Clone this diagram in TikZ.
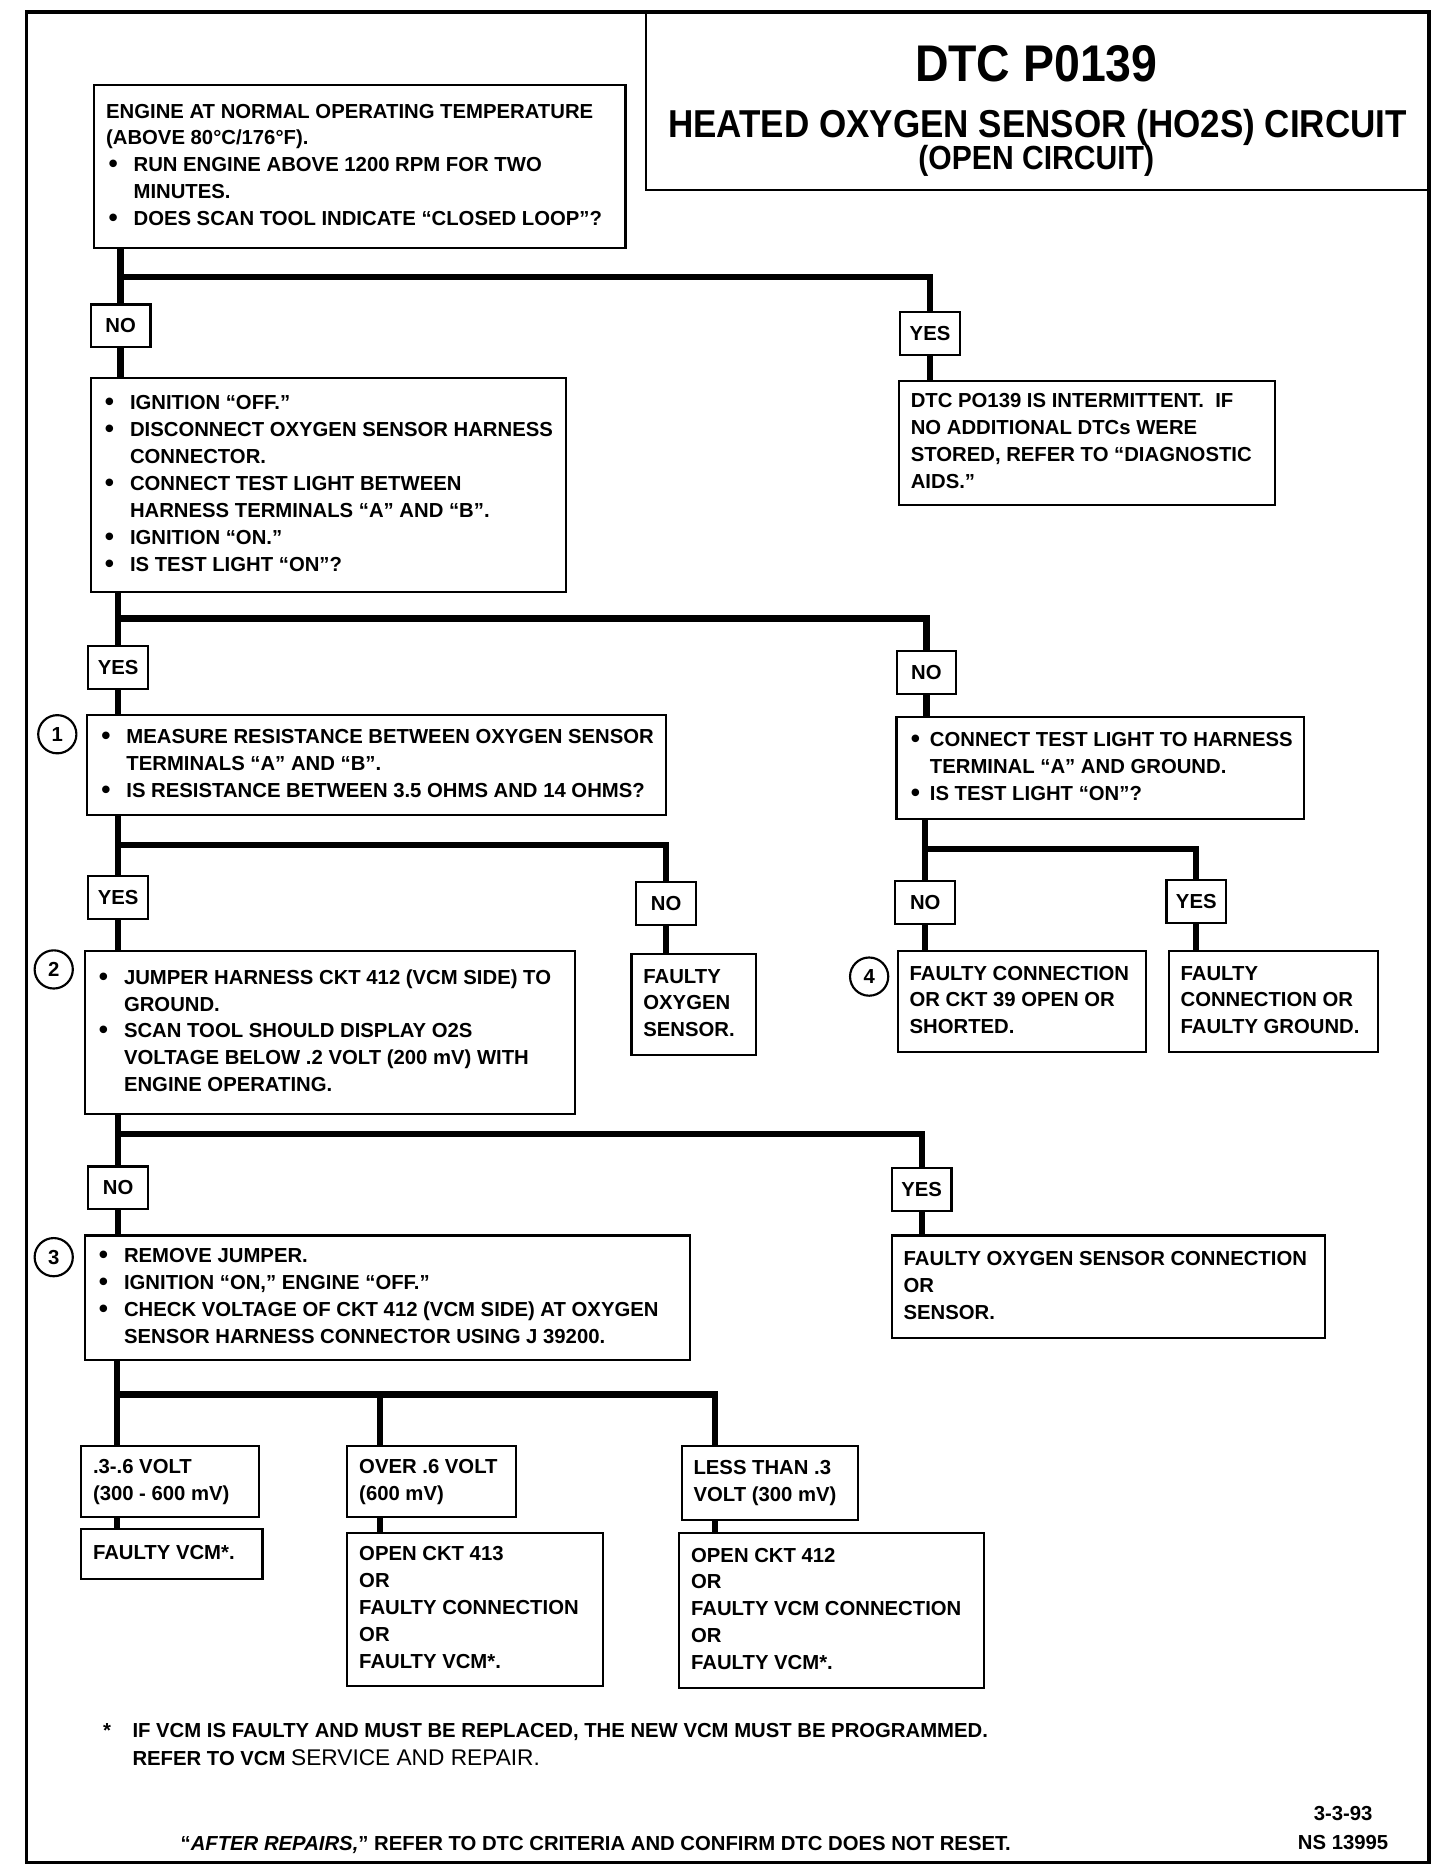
\documentclass[tikz,border=0pt]{standalone}
\usepackage{fontspec}
\setmainfont{Liberation Sans}
\newfontfamily\titlefont{Liberation Sans}[FakeStretch=0.9]

\newcommand{\bodyfont}{\bfseries\fontsize{8.5}{11.25}\selectfont}
\newcommand{\bigbul}{\raisebox{-0.4pt}{\fontsize{11}{11}\selectfont\textbullet}}
\newcommand{\bl}{\makebox[11.5pt][l]{\hspace{1pt}\bigbul}}
\newcommand{\bls}{\makebox[9pt][l]{\hspace{1pt}\bigbul}}
\newcommand{\full}[1]{\multicolumn{2}{@{}l@{}}{#1}}
\newcommand{\boxtext}[2]{\makebox[#1][l]{\begin{tabular}{@{}l@{}l@{}}#2\end{tabular}}}

\tikzset{
  box/.style={draw, line width=0.9pt, anchor=north west, inner xsep=5pt, inner ysep=0pt, font=\bodyfont},
  yn/.style={draw, line width=0.9pt, minimum width=25pt, minimum height=18pt, inner sep=2pt, fill=white, font=\bodyfont},
  conn/.style={line width=2.6pt},
  stepno/.style={circle, draw, line width=0.9pt, minimum size=16pt, inner sep=0pt, font=\bodyfont}
}

\begin{document}
\begin{tikzpicture}[x=0.5pt, y=-0.5pt]
  \fill[white] (0,0) rectangle (1206,1568);
  % rahmen
  \draw[line width=1.4pt] (22,10) rectangle (1197,1560);

  % titel
  \node[draw, line width=0.9pt, anchor=north west, minimum width=328.5pt, minimum height=74pt, inner sep=0pt] (title) at (540,10) {};
  \node[anchor=base, font=\titlefont\bfseries\fontsize{21.6}{24}\selectfont] (dtcno) at (868,68) {DTC P0139};
  \node[anchor=base, font=\titlefont\bfseries\fontsize{16.3}{18}\selectfont] (heated) at (869,115) {HEATED OXYGEN SENSOR (HO2S) CIRCUIT};
  \node[anchor=base, font=\titlefont\bfseries\fontsize{14}{16}\selectfont] (opencirc) at (868,142) {(OPEN CIRCUIT)};

  % kaesten
  \node[box, minimum height=68.5pt] (engtemp) at (78,70) {\boxtext{212.5pt}{%
    \full{ENGINE AT NORMAL OPERATING TEMPERATURE}\\
    \full{(ABOVE 80°C/176°F).}\\
    \bl & RUN ENGINE ABOVE 1200 RPM FOR TWO\\
        & MINUTES.\\
    \bl & DOES SCAN TOOL INDICATE “CLOSED LOOP”?}};
  \node[box, minimum height=89.5pt] (ignoff) at (75,316) {\boxtext{189pt}{%
    \bl & IGNITION “OFF.”\\
    \bl & DISCONNECT OXYGEN SENSOR HARNESS\\
        & CONNECTOR.\\
    \bl & CONNECT TEST LIGHT BETWEEN\\
        & HARNESS TERMINALS “A” AND “B”.\\
    \bl & IGNITION “ON.”\\
    \bl & IS TEST LIGHT “ON”?}};
  \node[box, minimum height=52pt] (intermit) at (752,318) {\boxtext{147.5pt}{%
    DTC PO139 IS INTERMITTENT.\ \ IF\\
    NO ADDITIONAL DTCs WERE\\
    STORED, REFER TO “DIAGNOSTIC\\
    AIDS.”}};
  \node[box, minimum height=42pt] (resist) at (72,598) {\boxtext{232.5pt}{%
    \bl & MEASURE RESISTANCE BETWEEN OXYGEN SENSOR\\
        & TERMINALS “A” AND “B”.\\
    \bl & IS RESISTANCE BETWEEN 3.5 OHMS AND 14 OHMS?}};
  \node[box, minimum height=42.5pt] (harnessgnd) at (750,600) {\boxtext{160.5pt}{%
    \bls & CONNECT TEST LIGHT TO HARNESS\\
         & TERMINAL “A” AND GROUND.\\
    \bls & IS TEST LIGHT “ON”?}};
  \node[box, minimum height=42.5pt] (badsensor) at (528,798) {\boxtext{42pt}{%
    FAULTY\\ OXYGEN\\ SENSOR.}};
  \node[box, minimum height=68pt] (jumpgnd) at (70,796) {\boxtext{195.5pt}{%
    \bl & JUMPER HARNESS CKT 412 (VCM SIDE) TO\\
        & GROUND.\\
    \bl & SCAN TOOL SHOULD DISPLAY O2S\\
        & VOLTAGE BELOW .2 VOLT (200 mV) WITH\\
        & ENGINE OPERATING.}};
  \node[box, minimum height=42pt] (ckt39) at (751,796) {\boxtext{94pt}{%
    FAULTY CONNECTION\\ OR CKT 39 OPEN OR\\ SHORTED.}};
  \node[box, minimum height=42pt] (badground) at (978,796) {\boxtext{77.5pt}{%
    FAULTY\\ CONNECTION OR\\ FAULTY GROUND.}};
  \node[box, minimum height=43pt] (sensorconn) at (746,1034) {\boxtext{171.5pt}{%
    FAULTY OXYGEN SENSOR CONNECTION\\ OR\\ SENSOR.}};
  \node[box, minimum height=52pt] (chkvolt) at (70,1034) {\boxtext{243.5pt}{%
    \bl & REMOVE JUMPER.\\
    \bl & IGNITION “ON,” ENGINE “OFF.”\\
    \bl & CHECK VOLTAGE OF CKT 412 (VCM SIDE) AT OXYGEN\\
        & SENSOR HARNESS CONNECTOR USING J 39200.}};
  \node[box, minimum height=30pt] (volt36) at (67,1210) {\boxtext{64.5pt}{%
    .3-.6 VOLT\\ (300 - 600 mV)}};
  \node[box, minimum height=30pt] (voltover) at (290,1210) {\boxtext{60.5pt}{%
    OVER .6 VOLT\\ (600 mV)}};
  \node[box, minimum height=31pt] (voltunder) at (570,1210) {\boxtext{64pt}{%
    LESS THAN .3\\ VOLT (300 mV)}};
  \node[box, minimum height=21pt] (vcmbad) at (67,1280) {\boxtext{66pt}{FAULTY VCM*.}};
  \node[box, minimum height=64pt] (ckt413) at (290,1283) {\boxtext{97pt}{%
    OPEN CKT 413\\ OR\\ FAULTY CONNECTION\\ OR\\ FAULTY VCM*.}};
  \node[box, minimum height=65pt] (ckt412) at (568,1283) {\boxtext{117.5pt}{%
    OPEN CKT 412\\ OR\\ FAULTY VCM CONNECTION\\ OR\\ FAULTY VCM*.}};

  % ja / nein
  \node[yn] (no1) at (101,273) {NO};
  \node[yn] (yes1) at (779,279) {YES};
  \node[yn] (yes2) at (99,559) {YES};
  \node[yn] (no2) at (776,563) {NO};
  \node[yn] (yes3) at (99,752) {YES};
  \node[yn] (no3) at (558,757) {NO};
  \node[yn] (no4) at (775,756) {NO};
  \node[yn] (yes4) at (1002,755) {YES};
  \node[yn] (no5) at (99,995) {NO};
  \node[yn] (yes5) at (772,996) {YES};

  % schritte
  \node[stepno] (s1) at (48,615) {1};
  \node[stepno] (s2) at (45,812) {2};
  \node[stepno] (s3) at (45,1053) {3};
  \node[stepno] (s4) at (728,818) {4};

  % verbindungen
  \coordinate (j1) at (101,232);
  \draw[conn] (engtemp.south -| j1) -- (no1.north);
  \draw[conn] (j1) -| (yes1.north);
  \draw[conn] (no1.south) -- (ignoff.north -| no1);
  \draw[conn] (yes1.south) -- (intermit.north -| yes1);

  \coordinate (j2) at (99,518);
  \draw[conn] (ignoff.south -| j2) -- (yes2.north);
  \draw[conn] (j2) -| (no2.north);
  \draw[conn] (yes2.south) -- (resist.north -| yes2);
  \draw[conn] (no2.south) -- (harnessgnd.north -| no2);

  \coordinate (j3) at (99,708);
  \draw[conn] (resist.south -| j3) -- (yes3.north);
  \draw[conn] (j3) -| (no3.north);
  \draw[conn] (yes3.south) -- (jumpgnd.north -| yes3);
  \draw[conn] (no3.south) -- (badsensor.north -| no3);

  \coordinate (j4) at (775,711);
  \draw[conn] (harnessgnd.south -| j4) -- (no4.north);
  \draw[conn] (j4) -| (yes4.north);
  \draw[conn] (no4.south) -- (ckt39.north -| no4);
  \draw[conn] (yes4.south) -- (badground.north -| yes4);

  \coordinate (j5) at (99,950);
  \draw[conn] (jumpgnd.south -| j5) -- (no5.north);
  \draw[conn] (j5) -| (yes5.north);
  \draw[conn] (no5.south) -- (chkvolt.north -| no5);
  \draw[conn] (yes5.south) -- (sensorconn.north -| yes5);

  \coordinate (j6) at (98,1168);
  \coordinate (b2) at (318,1168);
  \coordinate (b3) at (599,1168);
  \draw[conn] (chkvolt.south -| j6) -- (volt36.north -| j6);
  \draw[conn] (j6) -| (voltunder.north -| b3);
  \draw[conn] (b2) -- (voltover.north -| b2);
  \draw[conn] (volt36.south -| j6) -- (vcmbad.north -| j6);
  \draw[conn] (voltover.south -| b2) -- (ckt413.north -| b2);
  \draw[conn] (voltunder.south -| b3) -- (ckt412.north -| b3);

  % fussnoten
  \node[anchor=base west, inner sep=0pt, font=\bfseries\fontsize{8.5}{12}\selectfont] (vcmnote) at (86,1455)
    {\begin{tabular}[t]{@{}l@{\hspace{9pt}}l@{}}
      * & IF VCM IS FAULTY AND MUST BE REPLACED, THE NEW VCM MUST BE PROGRAMMED.\\
        & REFER TO VCM {\mdseries\fontsize{9.5}{12}\selectfont SERVICE AND REPAIR.}
    \end{tabular}};
  \node[anchor=base, font=\bodyfont] (afterrep) at (499,1550)
    {“\textit{AFTER REPAIRS,}” REFER TO DTC CRITERIA AND CONFIRM DTC DOES NOT RESET.};
  \node[anchor=base, font=\bodyfont] (pubdate) at (1125,1525) {3-3-93};
  \node[anchor=base, font=\bodyfont] (nsnum) at (1125,1549) {NS 13995};
\end{tikzpicture}
\end{document}
